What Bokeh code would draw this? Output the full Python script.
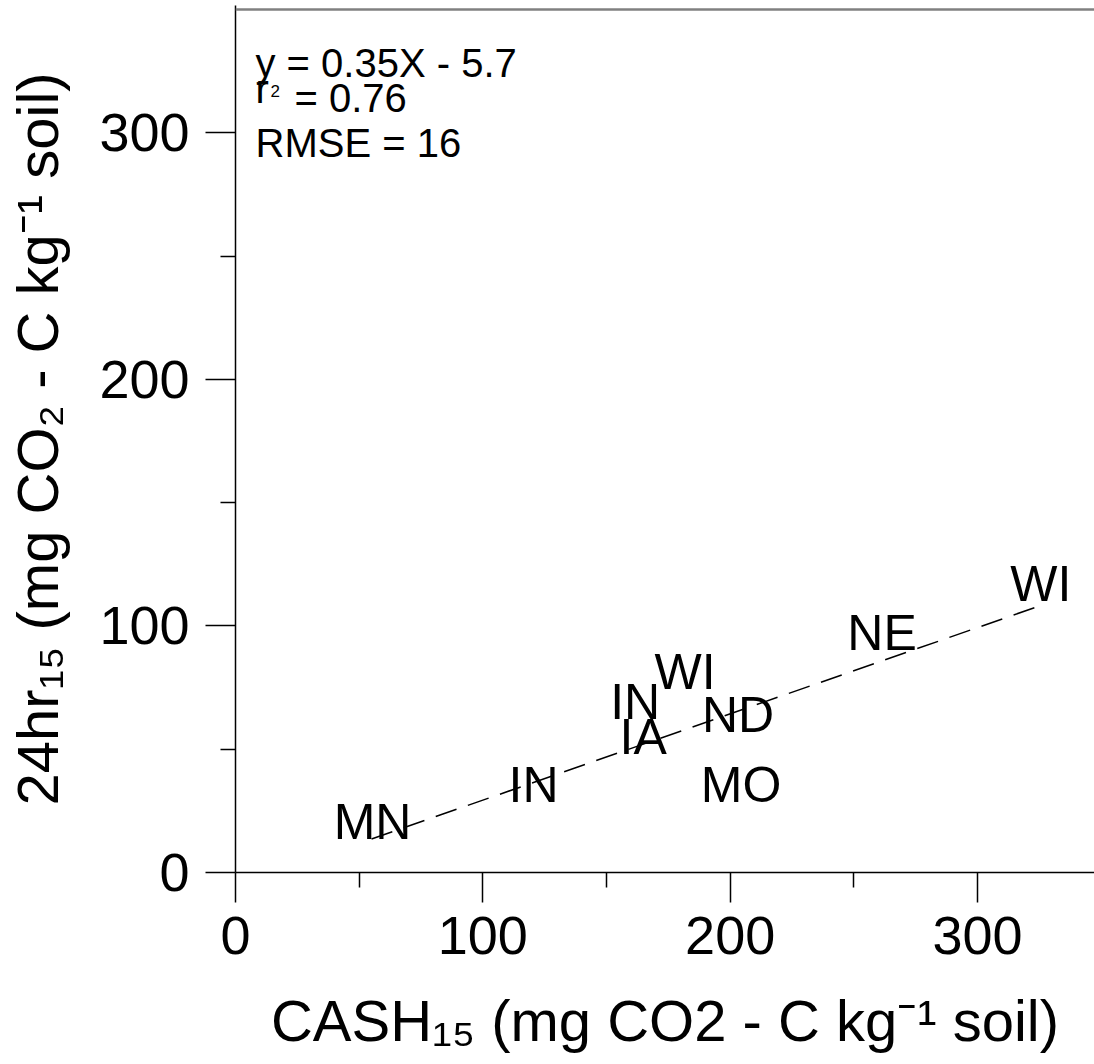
import math
from bokeh.plotting import figure
from bokeh.models import ColumnDataSource, Label, Span, FixedTicker, Range1d
from bokeh.core.properties import value
from bokeh.embed import file_html
from bokeh.resources import INLINE

# ---------------- data ----------------
states = ["MN", "IN", "IA", "IN", "WI", "ND", "MO", "NE", "WI"]
cash15 = [55.4, 120.5, 164.8, 161.6, 181.8, 203.2, 204.4, 261.4, 325.6]
hr24 = [20.3, 35.3, 54.8, 69.0, 81.2, 63.7, 35.3, 97.0, 117.0]

fit_x = [55.0, 326.5]
fit_y = [13.6, 108.6]

x_ticks = [0, 100, 200, 300]
x_minor = [50, 150, 250]
y_ticks = [0, 100, 200, 300]
y_minor = [50, 150, 250]

x_title = "CASH\u2081\u2085 (mg CO2 - C kg\u207b\u00b9 soil)"
y_title = "24hr\u2081\u2085 (mg CO\u2082 - C kg\u207b\u00b9 soil)"

eq_text = "y = 0.35X - 5.7"
r_text = "r"
r_sub = "2"
r_val = "= 0.76"
rmse_text = "RMSE = 16"

# ---------------- layout ----------------
W, H = 1094, 1064
FL, FR, FT, FB = 235, 1094, 5, 872
X0, X1 = 0.0, 347.3
Y0, Y1 = 0.0, 351.6
FONT = "Liberation Sans"


def dx(px):
    return X0 + (px - FL) * (X1 - X0) / (FR - FL)


def dy(py):
    return Y0 + (FB - py) * (Y1 - Y0) / (FB - FT)


p = figure(width=W, height=H, output_backend="svg", toolbar_location=None,
           x_range=Range1d(X0, X1), y_range=Range1d(Y0, Y1),
           min_border_left=FL, min_border_right=W - FR,
           min_border_top=FT, min_border_bottom=H - FB)
p.outline_line_color = None
p.xgrid.visible = False
p.ygrid.visible = False
p.background_fill_color = "white"
p.border_fill_color = "white"

for ax, tk, mn in ((p.xaxis, x_ticks, x_minor), (p.yaxis, y_ticks, y_minor)):
    ax.ticker = FixedTicker(ticks=tk, minor_ticks=mn)
    ax.axis_line_color = "black"
    ax.axis_line_width = 1.5
    ax.major_tick_line_color = "black"
    ax.major_tick_line_width = 1.5
    ax.minor_tick_line_color = "black"
    ax.minor_tick_line_width = 1.5
    ax.major_tick_in = 0
    ax.major_tick_out = 30
    ax.minor_tick_in = 0
    ax.minor_tick_out = 15
    ax.major_label_text_font = FONT
    ax.major_label_text_font_size = "54px"
    ax.major_label_text_color = "black"
    ax.axis_label_text_font = FONT
    ax.axis_label_text_font_style = "normal"
    ax.axis_label_text_color = "black"
p.xaxis.major_label_standoff = 14
p.yaxis.major_label_standoff = 16
p.xaxis.axis_label = x_title
p.yaxis.axis_label = y_title
p.xaxis.axis_label_text_font_size = "58px"
p.yaxis.axis_label_text_font_size = "58px"
p.xaxis.axis_label_standoff = 31
p.yaxis.axis_label_standoff = 26

p.add_layout(Span(location=350, dimension="width", line_color="#808080", line_width=2.5))

p.line(fit_x, fit_y, line_color="black", line_width=1.5, line_dash="22 12")

src = ColumnDataSource(dict(x=cash15, y=hr24, t=states))
p.text(x="x", y="y", text="t", source=src, text_font=value(FONT),
       text_font_size=value("50px"), text_align="center", text_baseline="middle",
       text_color="black")


def lab(px, py, text, size):
    p.add_layout(Label(x=dx(px), y=dy(py), text=text, text_font=FONT,
                       text_font_size=f"{size}px", text_align="left",
                       text_baseline="alphabetic", text_color="black"))


# stats text
lab(255, 62, eq_text, 40)
lab(255, 88, r_text, 40)
lab(270, 90, r_sub, 17)
lab(294, 97, r_val, 40)
lab(255, 142, rmse_text, 40)

open("out.html", "w").write(file_html(p, INLINE))
